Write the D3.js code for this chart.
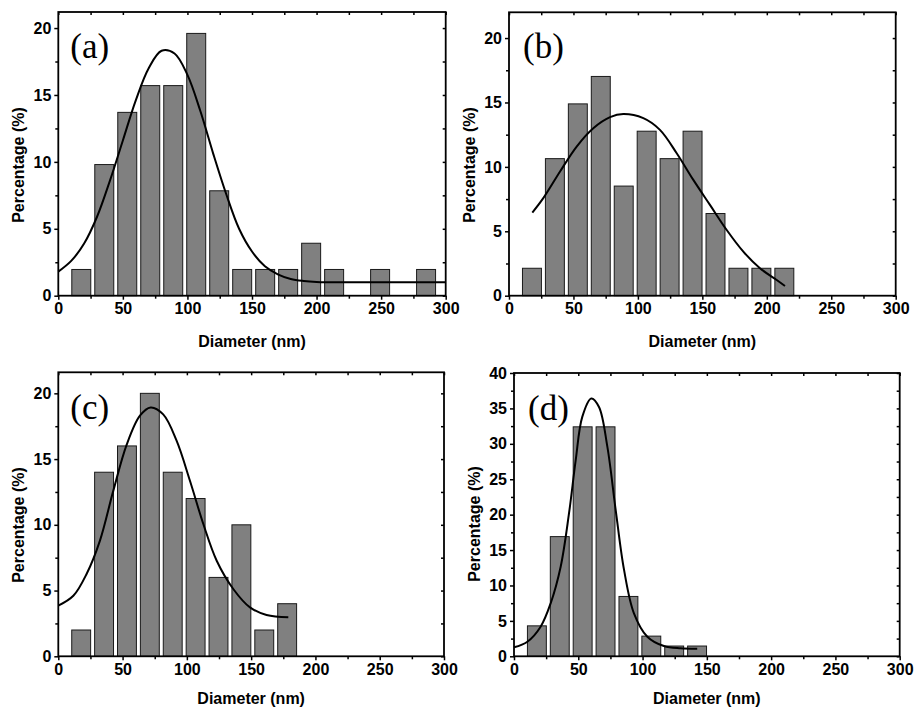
<!DOCTYPE html>
<html>
<head>
<meta charset="utf-8">
<script src="https://cdn.jsdelivr.net/npm/d3@7"></script>
<style>
  html, body { margin: 0; padding: 0; background: #fff; }
  svg { display: block; }
  .tick text { font-family: "Liberation Sans", Arial, sans-serif; font-weight: bold; font-size: 16px; fill: #000; }
  .axis-title { font-family: "Liberation Sans", Arial, sans-serif; font-weight: bold; font-size: 16px; fill: #000; }
  .panel-label { font-family: "Liberation Serif", "Times New Roman", serif; font-size: 35px; fill: #000; }
</style>
</head>
<body>
<svg width="914" height="708"></svg>
<script>
// ---- data
const binCenters = [17.8, 35.6, 53.4, 71.2, 89.0, 106.8, 124.6, 142.4, 160.2, 178.0, 195.8, 213.6, 231.4, 249.2, 267.0, 284.8];

const pctA = [1.96, 9.8, 13.7, 15.7, 15.7, 19.6, 7.84, 1.96, 1.96, 1.96, 3.92, 1.96, 0, 1.96, 0, 1.96];
const pctB = [2.13, 10.64, 14.89, 17.02, 8.51, 12.77, 10.64, 12.77, 6.38, 2.13, 2.13, 2.13];
const pctC = [2, 14, 16, 20, 14, 12, 6, 10, 2, 4];
const pctD = [4.3, 16.9, 32.4, 32.4, 8.45, 2.85, 1.45, 1.45];

// fitted curves
const fitAx = [0, 10, 20, 30, 40, 50, 60, 70, 80, 90, 100, 110, 120, 130, 140, 150, 160, 170, 180, 190, 200, 225, 250, 300];
const fitAy = [1.8, 2.6, 3.9, 5.9, 8.6, 11.6, 14.6, 17.0, 18.3, 18.1, 16.5, 13.8, 10.6, 7.6, 5.0, 3.3, 2.2, 1.6, 1.25, 1.1, 1.03, 1.0, 1.0, 1.0];

const fitBx = [18.1, 26.6, 39.6, 52.5, 65.4, 78.4, 88.7, 104.2, 117.1, 130.1, 143, 155.9, 168.9, 181.8, 194.7, 207.7, 214.1];
const fitBy = [6.45, 7.57, 9.64, 11.58, 13.0, 13.86, 14.1, 13.78, 12.87, 11.06, 8.99, 7.05, 5.1, 3.42, 2.13, 1.22, 0.75];

const fitCx = [0, 11.7, 22, 32.4, 42.8, 53.2, 63.5, 71.8, 81.6, 92, 102.4, 112.8, 123.2, 136.1, 149.1, 162, 178.9];
const fitCy = [3.85, 4.6, 6.26, 8.8, 12.6, 16.1, 18.3, 18.93, 18.4, 16.4, 13.35, 10.06, 7.27, 5.12, 3.72, 3.14, 2.97];

const fitDx = [0, 10.4, 20.7, 28.5, 36.3, 42.8, 48, 53.1, 60.1, 66.1, 72.6, 79.1, 85.6, 93.3, 103.7, 116.6, 129.6, 142.5];
const fitDy = [1.27, 2.06, 4.18, 7.48, 12.65, 20.2, 27.7, 33.8, 36.4, 35.2, 29.6, 20.65, 12.2, 6.07, 2.77, 1.45, 1.13, 1.07];

const panelLabels = ["(a)", "(b)", "(c)", "(d)"];
const yMax = [21.2, 22, 21.6, 40];
const xTicks = [0, 50, 100, 150, 200, 250, 300];
const xMinor = [25, 75, 125, 175, 225, 275];

const xTitle = "Diameter (nm)";
const yTitle = "Percentage (%)";

// ---- layout
const panels = [
  { left: 58.3, right: 445.7, top: 12,    bottom: 295.7, pct: pctA, fx: fitAx, fy: fitAy, titleY: 165, xTitleOff: 51 },
  { left: 509,  right: 895.7, top: 12.3,  bottom: 295.7, pct: pctB, fx: fitBx, fy: fitBy, titleY: 165, xTitleOff: 51 },
  { left: 58.3, right: 444,   top: 372.3, bottom: 656.3, pct: pctC, fx: fitCx, fy: fitCy, titleY: 525, xTitleOff: 48 },
  { left: 514,  right: 899.7, top: 373,   bottom: 656.3, pct: pctD, fx: fitDx, fy: fitDy, titleY: 524, xTitleOff: 48 }
];

const barWidth = 14.7; // in nm units
const svg = d3.select("svg");

panels.forEach((p, i) => drawPanel(p, i));

function drawPanel(p, i){
  const x = d3.scaleLinear().domain([0, 300]).range([p.left, p.right]);
  const y = d3.scaleLinear().domain([0, yMax[i]]).range([p.bottom, p.top]);
  const g = svg.append("g").attr("class", "panel");

  const yStep = 5;
  const yMajor = d3.range(0, yMax[i] + 0.01, yStep);
  const yMinor = d3.range(yStep / 2, yMax[i], yStep);

  // bars
  const bars = p.pct.map((v, k) => ({ c: binCenters[k], v: v })).filter(d => d.v > 0);
  g.selectAll("rect.bar")
    .data(bars)
    .join("rect")
      .attr("class", "bar")
      .attr("x", d => x(d.c - barWidth / 2))
      .attr("width", d => x(d.c + barWidth / 2) - x(d.c - barWidth / 2))
      .attr("y", d => y(d.v))
      .attr("height", d => y(0) - y(d.v))
      .attr("fill", "#808080")
      .attr("stroke", "#1a1a1a")
      .attr("stroke-width", 1);

  // fit curve
  const line = d3.line()
    .x(d => x(d[0]))
    .y(d => y(d[1]))
    .curve(d3.curveCatmullRom.alpha(0.5));
  g.append("path")
    .datum(p.fx.map((v, k) => [v, p.fy[k]]))
    .attr("d", line)
    .attr("fill", "none")
    .attr("stroke", "#000")
    .attr("stroke-width", 2);

  // axes
  g.append("g").attr("transform", `translate(0,${p.bottom})`)
    .call(d3.axisBottom(x).tickValues(xTicks).tickSize(4).tickPadding(3).tickFormat(d3.format("d")));
  g.append("g").attr("transform", `translate(0,${p.bottom})`)
    .call(d3.axisBottom(x).tickValues(xMinor).tickSize(3).tickFormat(""));
  g.append("g").attr("transform", `translate(${p.left},0)`)
    .call(d3.axisLeft(y).tickValues(yMajor).tickSize(4).tickPadding(3).tickFormat(d3.format("d")));
  g.append("g").attr("transform", `translate(${p.left},0)`)
    .call(d3.axisLeft(y).tickValues(yMinor).tickSize(3).tickFormat(""));
  // mirrored axes
  g.append("g").attr("transform", `translate(0,${p.top})`)
    .call(d3.axisTop(x).tickValues(xTicks.concat(xMinor)).tickSize(-3).tickFormat(""));
  g.append("g").attr("transform", `translate(${p.right},0)`)
    .call(d3.axisRight(y).tickValues(yMajor.concat(yMinor)).tickSize(-3).tickFormat(""));

  g.selectAll(".domain").remove();
  g.selectAll(".tick line").attr("stroke", "#000").attr("stroke-width", 1.5);

  // frame
  g.append("rect")
    .attr("x", p.left).attr("y", p.top)
    .attr("width", p.right - p.left).attr("height", p.bottom - p.top)
    .attr("fill", "none")
    .attr("stroke", "#000")
    .attr("stroke-width", 1.8);

  // titles
  g.append("text")
    .attr("class", "axis-title")
    .attr("x", (p.left + p.right) / 2)
    .attr("y", p.bottom + p.xTitleOff)
    .attr("text-anchor", "middle")
    .text(xTitle);

  g.append("text")
    .attr("class", "axis-title")
    .attr("transform", `translate(${p.left - 40},${p.titleY}) rotate(-90)`)
    .attr("dy", "0.35em")
    .attr("text-anchor", "middle")
    .text(yTitle);

  g.append("text")
    .attr("class", "panel-label")
    .attr("x", p.left + (i % 2 === 0 ? 12 : 14))
    .attr("y", p.top + (i < 2 ? 46 : 47))
    .text(panelLabels[i]);
}
</script>
</body>
</html>
